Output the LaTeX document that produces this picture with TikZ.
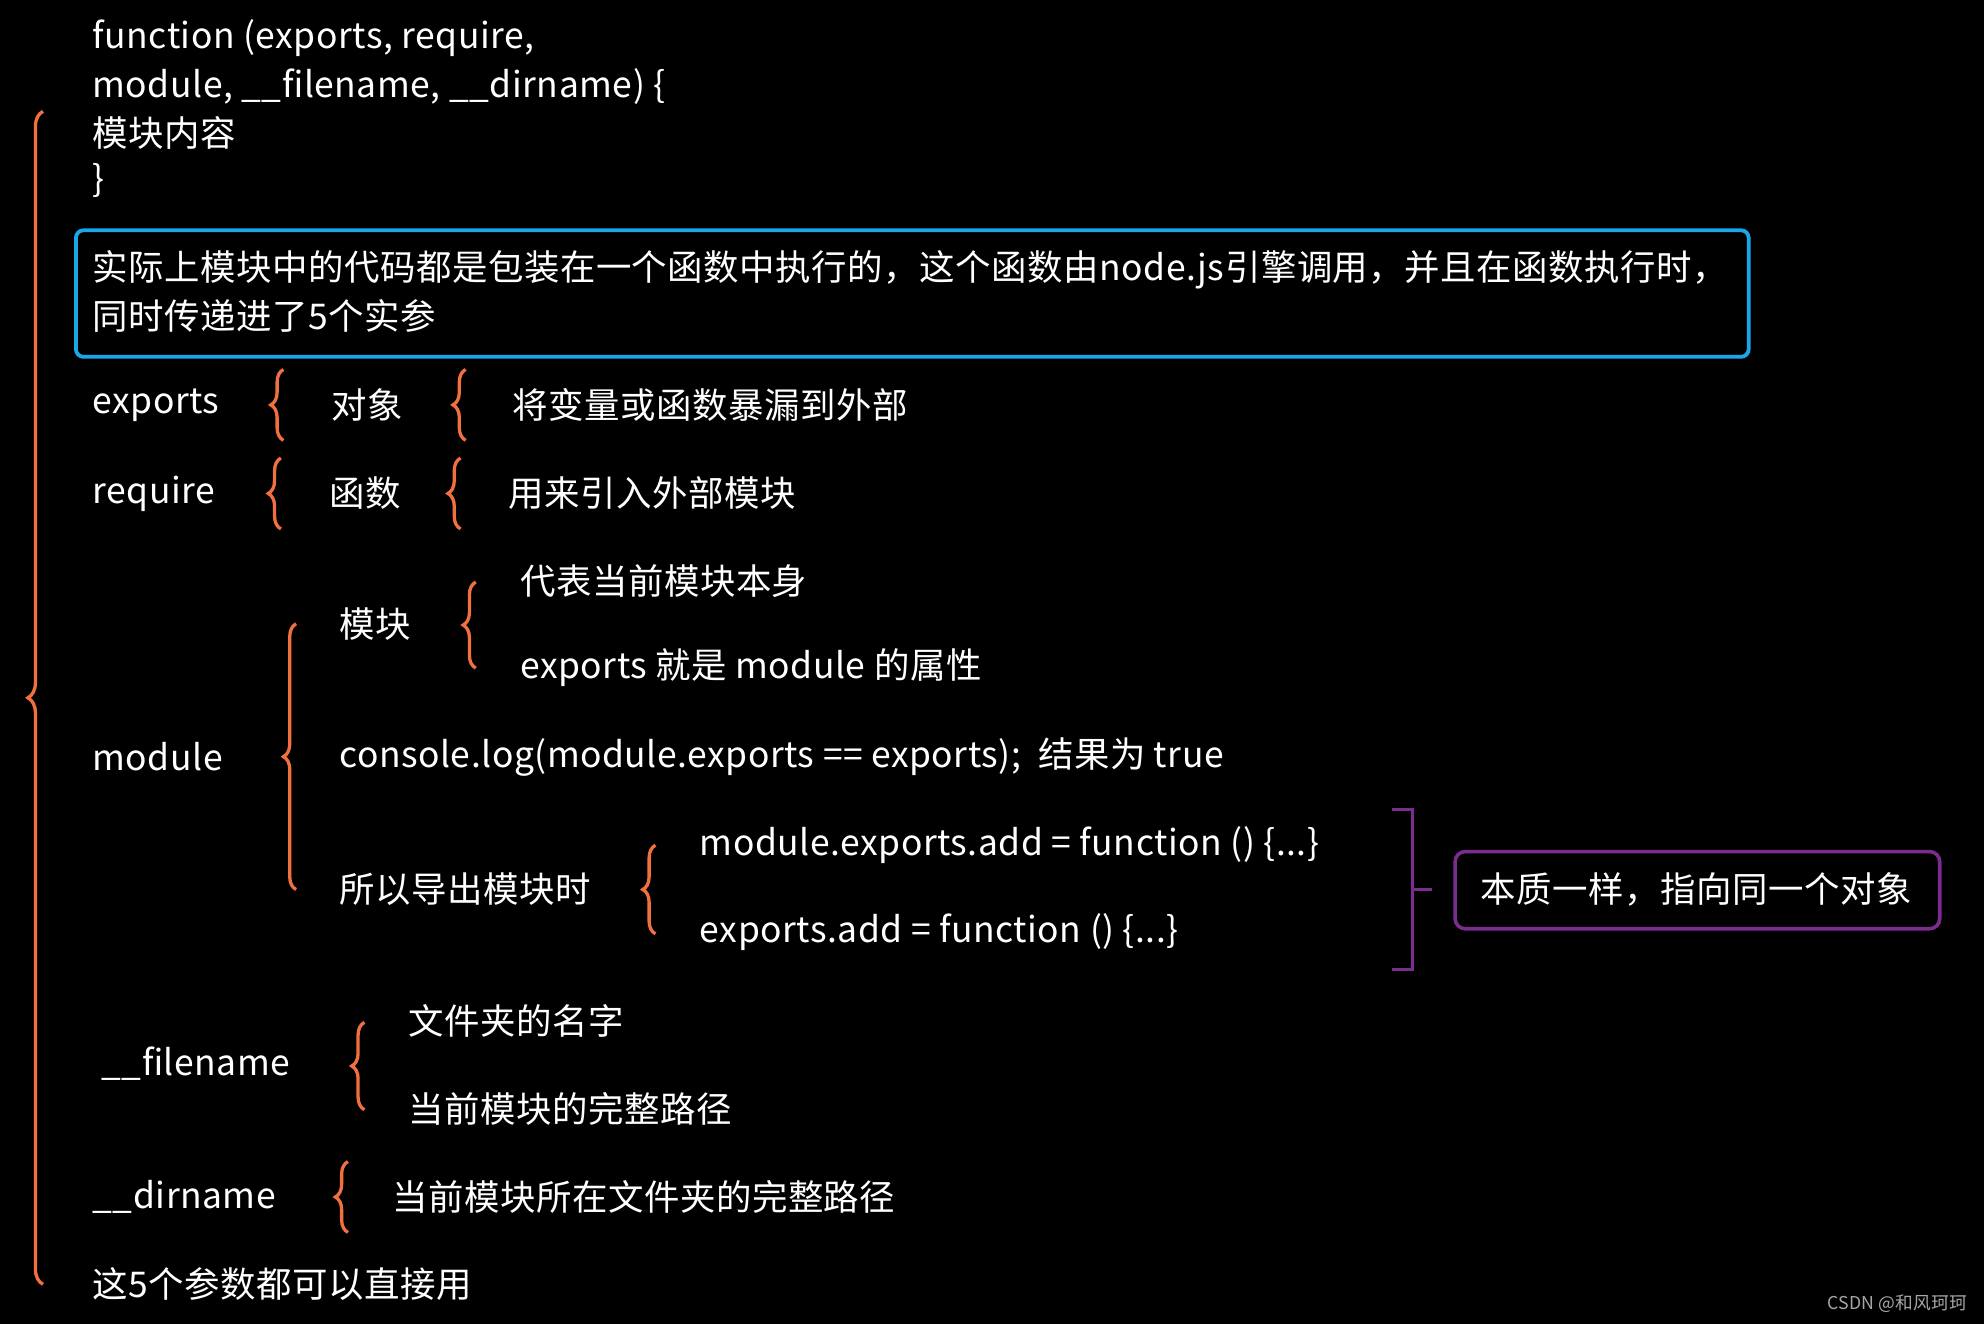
\documentclass[tikz,border=0pt]{standalone}
\usepackage{fontspec}
\setmainfont{Noto Sans CJK SC}[LetterSpace=1.5]
\usetikzlibrary{decorations.pathreplacing}
\definecolor{br}{HTML}{F0703F}
\definecolor{bl}{HTML}{1AA7E8}
\definecolor{pu}{HTML}{7B2D8E}
\tikzset{
 t/.style={anchor=west,text=white,font=\fontsize{28}{32}\selectfont,inner sep=0pt},
 brc/.style={draw=br,line width=2.6pt,decorate,decoration={brace,amplitude=#1}},
 brc/.default=10pt
}
\begin{document}
\begin{tikzpicture}[x=1pt,y=-1pt]
\fill[black] (0,0) rectangle (1568,1046);
\useasboundingbox (0,0) rectangle (1568,1046);
\node[t] (l1) at (73,30) {function (exports, require,};
\node[t] (l2) at (73,68) {module, \_\_filename, \_\_dirname) \{};
\node[t] (l3) at (73,105) {模块内容};
\node[t] (l4) at (73,143) {\}};
\draw[brc=12pt] (34,1015) -- (34,88);
\draw[bl,line width=3pt,rounded corners=6pt] (60,182) rectangle (1382,282);
\node[t] (b1) at (73,213) {实际上模块中的代码都是包装在一个函数中执行的，这个函数由node.js引擎调用，并且在函数执行时，};
\node[t] (b2) at (73,250) {同时传递进了5个实参};
% exports
\node[t] (ex) at (73,320) {exports};
\draw[brc] (224,348) -- (224,292);
\node[t] (ex1) at (262,320) {对象};
\draw[brc] (368,348) -- (368,292);
\node[t] (ex2) at (405,320) {将变量或函数暴漏到外部};
% require
\node[t] (rq) at (73,390) {require};
\draw[brc] (222,418) -- (222,362);
\node[t] (rq1) at (260,390) {函数};
\draw[brc] (364,418) -- (364,362);
\node[t] (rq2) at (402,390) {用来引入外部模块};
% module
\node[t] (md) at (73,598) {module};
\draw[brc] (234,703) -- (234,493);
\node[t] (mk) at (268,493) {模块};
\draw[brc] (376,528) -- (376,460);
\node[t] (mk1) at (411,459) {代表当前模块本身};
\node[t] (mk2) at (411,528) {exports 就是 module 的属性};
\node[t] (cl) at (268,598) {console.log(module.exports == exports);\ \ 结果为 true};
\node[t] (so) at (268,703) {所以导出模块时};
\draw[brc] (518,738) -- (518,668);
\node[t] (so1) at (553,668) {module.exports.add = function () \{...\}};
\node[t] (so2) at (553,737) {exports.add = function () \{...\}};
\draw[pu,line width=2.4pt] (1100,640) -- (1116,640) -- (1116,766) -- (1100,766);
\draw[pu,line width=2.4pt] (1116,703) -- (1132,703);
\draw[pu,line width=2.8pt,rounded corners=8pt] (1150,673) rectangle (1533,734);
\node[t] (same) at (1170,703) {本质一样，指向同一个对象};
% filename
\node[t] (fn) at (80,841) {\_\_filename};
\draw[brc] (288,877) -- (288,808);
\node[t] (fn1) at (323,807) {文件夹的名字};
\node[t] (fn2) at (323,876) {当前模块的完整路径};
% dirname
\node[t] (dn) at (73,946) {\_\_dirname};
\draw[brc] (275,974) -- (275,918);
\node[t] (dn1) at (310,946) {当前模块所在文件夹的完整路径};
\node[t] (last) at (73,1015) {这5个参数都可以直接用};
\node[anchor=east,text=gray!70,font=\fontsize{14}{16}\selectfont,inner sep=0pt] (wm) at (1555,1030) {CSDN @和风珂珂};
\end{tikzpicture}
\end{document}
